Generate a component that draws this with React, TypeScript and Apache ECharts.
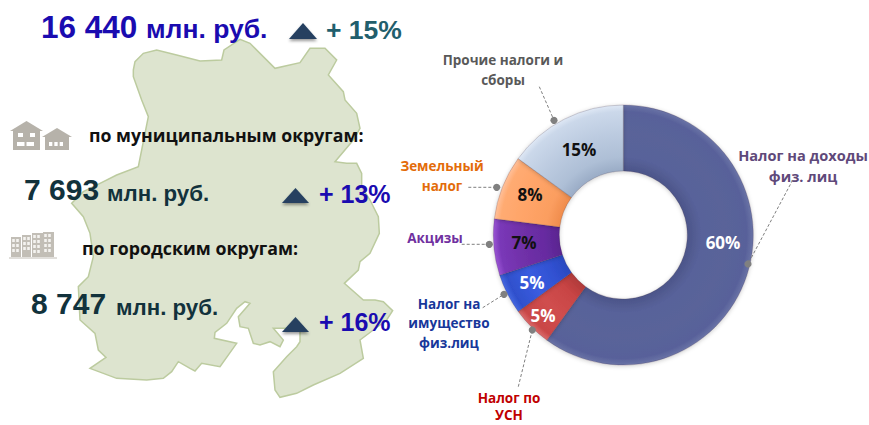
import React, { useEffect, useRef } from "react";
import * as echarts from "echarts";

const categories = [
  "Налог на доходы\nфиз. лиц",
  "Налог по\nУСН",
  "Налог на\nимущество\nфиз.лиц",
  "Акцизы",
  "Земельный\nналог",
  "Прочие налоги и\nсборы",
];
const shares = [60, 5, 5, 7, 8, 15];
const shareColors = ["#fff", "#fff", "#fff", "#111", "#111", "#111"];
const sharePos = [[723, 242], [543, 315], [532, 282], [524, 242], [530, 194], [579, 149]];
const nameColors = ["#5f497a", "#c00000", "#17379a", "#7030a0", "#e36c0a", "#595959"];
const namePos = [[803, 165], [509, 406], [449, 323], [435, 238], [442, 176], [503, 70]];
const nameSizes = [14.6, 13.5, 13.5, 13.5, 13.5, 13.5];
const nameLineHeights = [21, 17, 19.5, 19.5, 19.5, 19.5];
const sliceStops = [
  ["#4c5589", "#58629a", "#5a6499", "#58619a", "#6a73a6"],
  ["#b03a3a", "#c84444", "#d04e4e", "#c94646", "#d96a6a"],
  ["#2a49c0", "#3050d0", "#3a5ce0", "#2f50cc", "#4568e0"],
  ["#5a2490", "#662ba0", "#7030a8", "#7a38b8", "#9a55d4"],
  ["#f08c4c", "#fb9e60", "#ffa468", "#ffab72", "#ffc09a"],
  ["#9aacc6", "#aebfd6", "#bccbe0", "#cbd8ea", "#dfe8f5"],
];
const leaders = [
  [792.7, 180, 748, 264], [518.3, 386.7, 532.3, 330], [482.7, 307.7, 504, 294.3],
  [461.7, 244.3, 489.3, 244.3], [468.3, 187.3, 496.7, 187.3], [539.3, 86.7, 554, 120.3],
];
const mapPts = [
  [400,210],[405,185],[430,160],[470,150],[530,165],[600,183],[665,180],[672,150],[720,118],[750,130],
  [825,205],[900,188],[930,145],[975,145],[1010,180],[985,225],[1030,275],[1035,300],[1070,340],[1080,385],
  [1060,420],[1005,485],[1040,490],[1070,490],[1085,520],[1085,560],[1110,600],[1135,650],[1138,700],[1110,760],
  [1080,785],[1075,810],[1033,850],[1090,900],[1125,900],[1150,905],[1178,932],[1160,960],[1120,990],[1080,1020],
  [1090,1075],[1020,1120],[940,1155],[890,1180],[840,1192],[825,1170],[820,1115],[860,1070],[890,1040],[900,1025],
  [900,985],[820,985],[850,1020],[840,1040],[810,1025],[780,1035],[760,1030],[745,985],[720,980],[715,950],
  [750,910],[735,905],[710,925],[680,970],[645,997],[643,1015],[710,1030],[660,1100],[605,1090],[585,1113],
  [570,1105],[535,1085],[515,1115],[490,1135],[440,1140],[350,1135],[270,1105],[318,1072],[295,1050],[285,1000],
  [240,960],[235,860],[265,830],[280,770],[270,700],[250,650],[215,610],[250,575],[300,550],[350,525],
  [415,500],[425,450],[445,350],[425,300],[400,230],
];

const CX = 623.3, CY = 235, R0 = 64, R1 = 130;

function t(text: string, x: number, y: number, size: number, fill: string, family = "Liberation Sans") {
  return {
    type: "text", x, y, z: 5,
    style: { text, x: 0, y: 0, fill, font: `bold ${size}px "${family}"`, textAlign: "left", textVerticalAlign: "middle" },
  };
}
function tri(x0: number, x1: number, y0: number, y1: number) {
  return {
    type: "polygon", z: 4,
    shape: { points: [[x0, y1], [(x0 + x1) / 2, y0], [x1, y1]] },
    style: { fill: "#254061", shadowBlur: 3, shadowColor: "rgba(0,0,0,0.4)", shadowOffsetY: 2 },
  };
}
function rect(x: number, y: number, w: number, h: number, fill: string) {
  return { type: "rect", z: 3, shape: { x, y, width: w, height: h }, style: { fill } };
}
function house(x: number, base: number, w: number, h: number, roof: number, win: number) {
  const grey = "#b6b2aa";
  const els: any[] = [
    { type: "polygon", z: 3, shape: { points: [[x - 3, base - h + roof], [x + w / 2, base - h], [x + w + 3, base - h + roof]] }, style: { fill: grey } },
    rect(x, base - h + roof - 1, w, h - roof + 1, grey),
  ];
  for (let i = 0; i < win; i++) els.push(rect(x + 4 + i * ((w - 8) / win), base - 8, (w - 8) / win - 2, 4, "#fff"));
  if (win === 2) {
    els.push(rect(x + 5, base - 17, 5, 4, "#fff"));
    els.push(rect(x + w - 10, base - 17, 5, 4, "#fff"));
  }
  return els;
}
function tower(x: number, base: number, w: number, h: number) {
  const grey = "#c2beb6";
  const els: any[] = [rect(x, base - h, w, h, grey)];
  for (let r = 0; r < Math.floor((h - 3) / 5); r++)
    for (let c = 0; c < Math.floor((w - 1) / 4); c++)
      els.push(rect(x + 1.2 + c * 4, base - h + 2 + r * 5, 2.6, 3, "#f4f3f0"));
  return els;
}

export default function App() {
  const ref = useRef<HTMLDivElement>(null);
  useEffect(() => {
    const chart = echarts.init(ref.current!, undefined, { renderer: "svg" });
    const data = categories.map((name, i) => {
      const s = sliceStops[i];
      return {
        name, value: shares[i],
        itemStyle: {
          color: {
            type: "radial", x: CX, y: CY, r: R1, global: true,
            colorStops: [
              { offset: 0, color: s[0] },
              { offset: R0 / R1, color: s[0] },
              { offset: 0.6, color: s[1] },
              { offset: 0.78, color: s[2] },
              { offset: 0.95, color: s[3] },
              { offset: 1, color: s[4] },
            ],
          },
        },
        label: { color: shareColors[i] },
      };
    });
    const graphic: any[] = [
      { type: "polygon", z: 1, shape: { points: mapPts.map(([x, y]) => [x / 3, y / 3]) },
        style: { fill: "#dde4cf", stroke: "#bccb9f", lineWidth: 1.5 } },
      t("16 440", 41, 27, 31.5, "#1a0bb0"),
      t("млн. руб.", 146, 29, 26.5, "#1a0bb0"),
      tri(289, 317, 23, 39),
      t("+ 15%", 326, 30, 26.5, "#215e6c"),
      t("по муниципальным округам:", 89, 135, 17.7, "#111", "Open Sans"),
      t("7 693", 24, 189, 30, "#12323c"),
      t("млн. руб.", 107, 193, 22.3, "#12323c"),
      tri(282, 309, 188, 203),
      t("+ 13%", 319, 194, 25, "#1a0bb0"),
      t("по городским округам:", 82, 248, 17.8, "#111", "Open Sans"),
      t("8 747", 31, 303, 30, "#12323c"),
      t("млн. руб.", 116, 307, 22.3, "#12323c"),
      tri(282, 309, 317, 332),
      t("+ 16%", 319, 322, 25, "#1a0bb0"),
      ...house(13, 150, 27, 29, 10, 2),
      ...house(45, 150, 24, 22, 9, 3),
      ...tower(11, 257, 10, 20),
      ...tower(22, 257, 9, 22),
      ...tower(32, 257, 11, 24),
      ...tower(43, 257, 11, 25),
      { type: "line", z: 3, shape: { x1: 9, y1: 258, x2: 57, y2: 258 }, style: { stroke: "#c2beb6", lineWidth: 1 } },
      ...leaders.flatMap(([x1, y1, x2, y2]) => [
        { type: "line", z: 6, shape: { x1, y1, x2, y2 }, style: { stroke: "#7f7f7f", lineWidth: 1, lineDash: [3, 2] } },
        { type: "circle", z: 7, shape: { cx: x2, cy: y2, r: 3.6 }, style: { fill: "#808080" } },
      ]),
    ];
    chart.setOption({
      animation: false,
      graphic,
      series: [
        {
          type: "pie", center: [CX, CY], radius: [R0, R1], startAngle: 90, clockwise: true, silent: true,
          z: 2,
          itemStyle: { shadowBlur: 4, shadowColor: "rgba(0,0,0,0.2)", shadowOffsetY: 1, borderColor: "rgba(60,40,60,0.35)", borderWidth: 0.6 },
          label: { position: "inside", formatter: "{c}%", fontFamily: "Open Sans", fontWeight: "bold", fontSize: 17 },
          labelLine: { show: false },
          labelLayout: (p: any) => ({ x: sharePos[p.dataIndex][0], y: sharePos[p.dataIndex][1], align: "center", verticalAlign: "middle" }),
          data,
        },
        {
          type: "pie", center: [CX, CY], radius: [R0, R1], startAngle: 90, clockwise: true, silent: true,
          z: 3,
          itemStyle: { color: "rgba(0,0,0,0)" },
          label: {
            position: "outside", formatter: "{b}", fontFamily: "Open Sans", fontWeight: "bold",
            align: "center", verticalAlign: "middle", overflow: "none",
          },
          labelLine: { show: false },
          labelLayout: (p: any) => ({ x: namePos[p.dataIndex][0], y: namePos[p.dataIndex][1], align: "center", verticalAlign: "middle" }),
          data: categories.map((name, i) => ({
            name, value: shares[i],
            label: { color: nameColors[i], overflow: "none", width: 200, fontSize: nameSizes[i], lineHeight: nameLineHeights[i] },
          })),
        },
      ],
    });
    return () => chart.dispose();
  }, []);
  return <div ref={ref} style={{ position: "fixed", left: 0, top: 0, width: 869, height: 425, background: "#fff" }} />;
}
